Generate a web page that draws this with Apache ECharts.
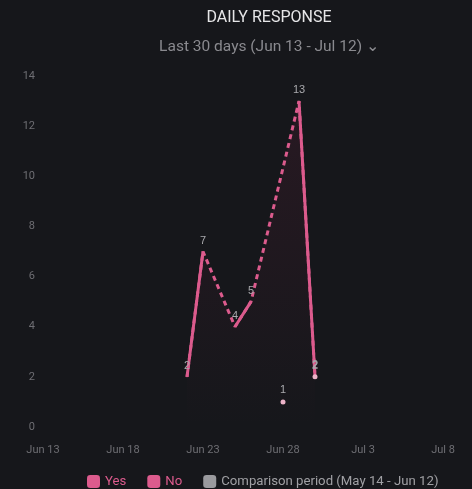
<!DOCTYPE html>
<html>
<head>
<meta charset="UTF-8">
<title>Daily response</title>
<script src="https://cdn.jsdelivr.net/npm/echarts@6/dist/echarts.min.js"></script>
<style>
  html, body { margin: 0; padding: 0; background: #16171b; }
  #chart { width: 472px; height: 489px; }
</style>
</head>
<body>
<div id="chart"></div>
<script>
// Jun 13 - Jul 12
var days = ['Jun 13','Jun 14','Jun 15','Jun 16','Jun 17','Jun 18','Jun 19','Jun 20','Jun 21','Jun 22',
            'Jun 23','Jun 24','Jun 25','Jun 26','Jun 27','Jun 28','Jun 29','Jun 30','Jul 1','Jul 2',
            'Jul 3','Jul 4','Jul 5','Jul 6','Jul 7','Jul 8','Jul 9','Jul 10','Jul 11','Jul 12'];
var yesValues = [null,null,null,null,null,null,null,null,null,2,
                 7,null,4,5,null,null,13,2,null,null,
                 null,null,null,null,null,null,null,null,null,null];
var noValues = [null,null,null,null,null,null,null,null,null,null,
                null,null,null,null,null,1,null,2,null,null,
                null,null,null,null,null,null,null,null,null,null];
var yTicks = [0, 2, 4, 6, 8, 10, 12, 14];

var pink = '#dc5b8d';
var chart = echarts.init(document.getElementById('chart'));

chart.setOption({
  backgroundColor: '#16171b',
  title: {
    text: 'DAILY RESPONSE',
    subtext: 'Last 30 days (Jun 13 - Jul 12) \u2304',
    left: 264, textAlign: 'center', top: 5,
    textStyle: { color: '#e6e6e8', fontSize: 16, fontWeight: 'normal', fontFamily: 'Roboto' },
    subtextStyle: { color: '#8a8a8f', fontSize: 15.5, fontFamily: 'Roboto' },
    itemGap: 13
  },
  legend: {
    left: 82, top: 470,
    itemWidth: 13, itemHeight: 13, itemGap: 21,
    icon: 'roundRect',
    selectedMode: false,
    textStyle: { fontSize: 13.2, fontFamily: 'Roboto' },
    data: [
      { name: 'Yes', itemStyle: { color: pink }, textStyle: { color: pink } },
      { name: 'No', itemStyle: { color: pink }, textStyle: { color: pink } },
      { name: 'Comparison period (May 14 - Jun 12)', itemStyle: { color: '#9a9a9e' }, textStyle: { color: '#a0a0a4' } }
    ]
  },
  grid: { left: 43, right: -35, top: 76, bottom: 62, outerBoundsMode: 'none' },
  xAxis: {
    type: 'category',
    data: days,
    boundaryGap: false,
    axisLine: { show: false },
    axisTick: { show: false },
    axisLabel: { interval: 4, color: '#6e6e73', fontSize: 11, margin: 18, fontFamily: 'Roboto' }
  },
  yAxis: {
    type: 'value',
    min: yTicks[0], max: yTicks[yTicks.length - 1], interval: 2,
    splitLine: { show: false },
    axisLine: { show: false },
    axisLabel: { color: '#6e6e73', fontSize: 11, margin: 8, fontFamily: 'Roboto' }
  },
  series: [
    {
      name: 'Yes gaps',
      type: 'line',
      data: yesValues,
      connectNulls: true,
      showSymbol: false,
      silent: true,
      lineStyle: { color: pink, width: 3, type: [5, 4] },
      areaStyle: {
        color: new echarts.graphic.LinearGradient(0, 0, 0, 1, [
          { offset: 0, color: 'rgba(180,40,90,0.16)' },
          { offset: 1, color: 'rgba(180,40,90,0)' }
        ])
      },
      z: 1
    },
    {
      name: 'Yes',
      type: 'line',
      data: yesValues,
      connectNulls: false,
      symbol: 'circle',
      symbolSize: 1,
      showAllSymbol: true,
      itemStyle: { color: pink },
      lineStyle: { color: pink, width: 3 },
      label: { show: true, position: 'top', color: '#a9a9ad', fontSize: 11, distance: 5 },
      z: 3
    },
    {
      name: 'No',
      type: 'line',
      data: noValues,
      connectNulls: false,
      symbol: 'circle',
      symbolSize: 5,
      showAllSymbol: true,
      itemStyle: { color: '#ecb3c8' },
      lineStyle: { color: pink, width: 3 },
      label: { show: true, position: 'top', color: '#a9a9ad', fontSize: 11, distance: 4 },
      labelLayout: { moveOverlap: 'shiftY' },
      z: 4
    },
    {
      name: 'Comparison period (May 14 - Jun 12)',
      type: 'line',
      data: []
    }
  ]
});
</script>
</body>
</html>
